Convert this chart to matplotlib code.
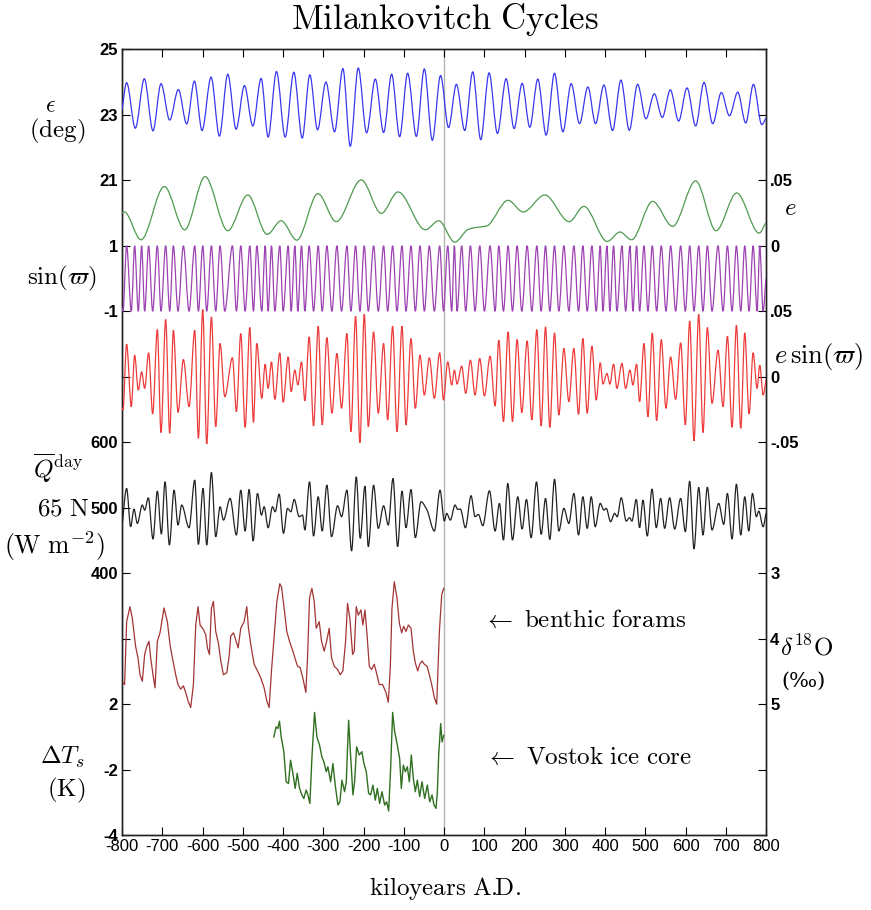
import numpy as np
import matplotlib
matplotlib.use("Agg")
import matplotlib.pyplot as plt
from matplotlib.path import Path
from matplotlib.patches import PathPatch

plt.rcParams['mathtext.fontset'] = 'cm'
plt.rcParams['font.family'] = ['Liberation Sans', 'DejaVu Sans']

# ---------------- data ----------------
# obliquity extrema (kyr, degrees)
obl_t = [-800, -788.5, -766.9, -744.5, -723.0, -703.1, -681.5, -660.0, -639.2, -620.1, -601.1,
         -578.7, -558.0, -537.2, -516.5, -495.8, -475.0, -454.3, -436.9, -416.2, -394.6, -373.1,
         -352.3, -333.3, -314.2, -293.4, -271.9, -251.2, -232.9, -213.0, -192.3, -170.7, -150.0,
         -130.1, -110.2, -90.3, -68.7, -48.9, -29.0, -8.6, 11.3, 30.8, 51.5, 71.4, 91.3, 112.0,
         132.8, 154.3, 174.2, 194.1, 213.2, 233.1, 253.8, 274.5, 295.3, 316.0, 336.7, 357.5,
         376.5, 397.3, 418.8, 439.6, 460.3, 481.0, 501.8, 522.5, 542.4, 562.3, 583.0, 603.8,
         625.3, 646.0, 667.6, 689.1, 709.1, 729.8, 749.7, 768.8, 789.5, 800]
obl_v = [23.15, 23.98, 22.59, 24.10, 22.51, 23.95, 22.84, 23.77, 22.72, 24.03, 22.52,
         24.15, 22.35, 24.24, 22.56, 23.89, 22.66, 24.11, 22.32, 24.32, 22.32, 24.30,
         22.29, 24.22, 22.54, 24.00, 22.48, 24.41, 22.04, 24.43, 22.45, 24.09, 22.46,
         24.24, 22.33, 24.27, 22.34, 24.40, 22.22, 24.20, 22.61, 23.93, 22.52, 24.31, 22.24, 24.28,
         22.43, 24.10, 22.58, 23.96, 22.62, 24.09, 22.38, 24.27, 22.48, 23.95, 22.73, 23.85,
         22.73, 23.91, 22.52, 24.06, 22.53, 23.93, 22.88, 23.64, 22.92, 23.76, 22.81, 23.82,
         22.66, 23.99, 22.73, 23.68, 22.97, 23.69, 22.75, 23.93, 22.70, 22.90]

# eccentricity (kyr, e)
ecc_t = [-800, -794, -752.8, -694.8, -644.2, -593.6, -537.2, -487.5, -439.4, -404.6, -365.6,
         -313.3, -267.8, -205.5, -155.8, -114.3, -46.3, -12.8, 26.6, 60, 80, 105, 159.3, 196.6,
         250.5, 311.0, 347.5, 405.6, 437.1, 466.1, 518.3, 568.1, 625.3, 675.9, 727.3, 782.9, 800]
ecc_v = [0.0250, 0.0258, 0.0046, 0.0452, 0.0122, 0.0528, 0.0115, 0.0388, 0.0087, 0.0191, 0.0043,
         0.0398, 0.0184, 0.0503, 0.0247, 0.0411, 0.0122, 0.0191, 0.0028, 0.0125, 0.0140, 0.0150,
         0.0347, 0.0258, 0.0388, 0.0184, 0.0301, 0.0033, 0.0105, 0.0046, 0.0339, 0.0148, 0.0495,
         0.0115, 0.0403, 0.0097, 0.0179]

# precession index e*sin(varpi) extrema (kyr, value)
prec_t = [-800, -797.6, -788.5, -776.9, -768.6, -759.5, -751.2, -743.7, -733.8, -723.8, -712.2,
          -703.1, -691.5, -681.5, -672.4, -660.8, -647.5, -633.4, -619.3, -610.2, -599.4, -589.5,
          -577.9, -567.1, -556.3, -544.7, -525.6, -515.7, -504.9, -494.1, -482.5, -473.4, -465.1,
          -452.7, -444.4, -436.9, -428.6, -420.3, -407.9, -399.6, -387.1, -379.7, -370.6, -363.1,
          -354.0, -345.7, -334.9, -324.1, -312.5, -302.6, -291.0, -278.5, -266.1, -254.5, -241.2,
          -231.3, -219.7, -208.9, -198.1, -188.1, -174.9, -163.3, -150.0, -140.0, -127.6, -116.8,
          -104.4, -94.4, -82.0, -71.2, -59.6, -48.8, -36.4, -24.0, -10.7, -1.2, 9.2, 19.2, 25.8,
          32.4, 44.0, 54.0, 65.6, 77.2, 88.8, 100.4, 114.5, 127.0, 136.1, 147.7, 159.3, 170.1,
          181.7, 193.3, 206.6, 218.2, 230.6, 241.4, 252.2, 262.9, 274.6, 285.3, 297.8, 310.2,
          322.6, 334.3, 345.0, 355.8, 367.4, 378.2, 388.2, 394.8, 404.8, 412.2, 421.3, 429.6,
          442.1, 451.2, 462.0, 469.4, 478.5, 486.0, 496.8, 506.7, 517.5, 528.3, 539.9, 551.5,
          563.1, 575.5, 588.0, 599.6, 610.4, 621.1, 632.8, 643.5, 654.3, 665.9, 680.8, 693.3,
          704.1, 715.7, 726.5, 737.3, 747.2, 758.0, 768.0, 777.9, 784.5, 792.8, 800]
esin_v = [-0.0240, -0.0254, 0.0249, -0.0228, 0.0165, -0.0102, 0.0038, -0.0089, 0.0183, -0.0284, 0.0360,
          -0.0426, 0.0437, -0.0431, 0.0355, -0.0272, 0.0132, -0.0228, 0.0355, -0.0470, 0.0513, -0.0513,
          0.0457, -0.0381, 0.0254, -0.0152, 0.0145, -0.0266, 0.0330, -0.0386, 0.0376, -0.0348, 0.0254,
          -0.0165, 0.0096, -0.0089, 0.0114, -0.0173, 0.0183, -0.0195, 0.0152, -0.0114, 0.0051, -0.0063,
          0.0114, -0.0183, 0.0305, -0.0376, 0.0386, -0.0368, 0.0299, -0.0279, 0.0178, -0.0241, 0.0330,
          -0.0419, 0.0462, -0.0503, 0.0477, -0.0381, 0.0343, -0.0279, 0.0254, -0.0330, 0.0386, -0.0419,
          0.0386, -0.0368, 0.0292, -0.0241, 0.0165, -0.0140, 0.0145, -0.0165, 0.0183, -0.0178, 0.0114,
          -0.0063, 0.0051, -0.0056, 0.0081, -0.0127, 0.0127, -0.0140, 0.0140, -0.0147, 0.0157, -0.0223,
          0.0279, -0.0343, 0.0343, -0.0343, 0.0284, -0.0274, 0.0274, -0.0330, 0.0360, -0.0376, 0.0381,
          -0.0386, 0.0335, -0.0292, 0.0216, -0.0190, 0.0216, -0.0287, 0.0292, -0.0279, 0.0234, -0.0178,
          0.0107, -0.0056, 0.0025, -0.0056, 0.0096, -0.0089, 0.0102, -0.0089, 0.0051, -0.0063, 0.0096,
          -0.0190, 0.0254, -0.0305, 0.0335, -0.0335, 0.0284, -0.0241, 0.0152, -0.0173, 0.0259, -0.0368,
          0.0426, -0.0490, 0.0477, -0.0426, 0.0376, -0.0203, 0.0203, -0.0228, 0.0310, -0.0386, 0.0393,
          -0.0393, 0.0335, -0.0284, 0.0183, -0.0089, 0.0089, -0.0140, -0.0025]

# sin(varpi): +1/-1 at the same turning points; values at the plot edges
sinw_edges = [-0.9, 0.0]

# 65N mean daily insolation extrema (kyr, W m^-2)
ins_t = [-800, -788.5, -778.5, -770.2, -761.9, -749.5, -743.7, -734.6, -723.0, -712.2, -702.2,
         -693.1, -682.3, -670.7, -660.8, -651.7, -633.4, -619.3, -610.2, -598.6, -589.5, -577.9,
         -567.1, -556.3, -548.0, -531.4, -515.7, -504.9, -494.1, -484.2, -474.2, -463.4, -453.5,
         -446.9, -436.9, -426.1, -419.5, -409.5, -398.8, -388.8, -380.5, -372.2, -359.8, -351.5,
         -345.7, -334.1, -324.1, -312.5, -302.6, -291.0, -279.4, -264.4, -254.5, -241.2, -229.6,
         -218.0, -208.1, -196.4, -188.1, -174.9, -163.3, -150.0, -138.4, -126.8, -115.2, -104.4,
         -94.4, -82.0, -71.2, -57.1, -42.2, -24.0, -9.9, 0.9, 6.7, 15.8, 27.4, 34.1, 40.7, 53.2,
         67.2, 77.2, 85.5, 96.3, 112.9, 127.0, 137.7, 147.7, 158.5, 170.1, 183.3, 194.1, 204.9,
         216.5, 229.8, 241.4, 252.2, 262.9, 274.6, 285.3, 297.8, 310.2, 322.6, 334.3, 345.0,
         355.8, 365.8, 375.7, 388.2, 397.3, 403.1, 413.9, 423.8, 430.4, 440.4, 452.8, 461.1,
         466.9, 477.7, 486.0, 494.3, 505.1, 516.7, 527.5, 538.2, 548.2, 560.6, 573.1, 588.0,
         599.6, 610.4, 621.1, 632.8, 643.5, 654.3, 665.9, 682.5, 695.0, 704.1, 715.7, 726.5,
         737.3, 747.2, 757.2, 766.3, 776.2, 782.0, 792.8, 800]
ins_v = [471.0, 529.5, 471.0, 498.0, 476.1, 504.1, 496.4, 515.2, 452.2, 525.4, 459.9,
         539.6, 443.1, 526.9, 473.6, 504.1, 469.5, 542.2, 444.1, 529.5, 443.1, 553.8,
         455.8, 501.5, 481.2, 514.2, 458.3, 526.9, 464.4, 527.9, 449.2, 521.8, 488.8,
         501.5, 469.5, 501.5, 493.9, 520.8, 460.9, 499.0, 493.9, 512.7, 486.3, 488.8,
         466.0, 539.6, 456.8, 516.8, 464.4, 534.5, 455.8, 503.0, 486.3, 526.9, 434.0,
         547.2, 453.3, 533.0, 440.6, 534.5, 468.5, 503.0, 473.6, 544.7, 440.6, 525.4,
         469.5, 527.9, 454.3, 509.1, 496.4, 464.4, 526.9, 479.7, 491.4, 481.2, 504.1, 497.5, 498.0, 469.5,
         518.3, 486.3, 489.8, 472.6, 525.9, 464.4, 506.6, 450.7, 537.1, 450.7, 516.8, 467.5, 512.7,
         454.3, 539.6, 459.4, 514.2, 451.7, 543.7, 464.4, 499.0, 476.1, 521.8, 458.3, 516.8,
         468.5, 516.8, 471.0, 506.6, 496.4, 499.0, 478.7, 491.4, 486.3, 515.2, 479.7, 484.8,
         479.7, 512.7, 469.5, 511.7, 456.8, 528.4, 469.5, 514.2, 468.5, 515.2, 467.5, 514.2,
         463.4, 540.6, 437.0, 531.0, 458.3, 531.5, 466.0, 506.6, 474.6, 521.8, 452.2, 536.1,
         458.3, 516.8, 464.4, 521.8, 486.3, 494.9, 471.0, 491.4]

# benthic foram d18O (kyr, permil)
d18o_t = [-796.8, -793.5, -788.5, -780.2, -774.4, -766.1, -760.3, -755.3, -749.5, -743.7, -738.7,
          -732.9, -728.8, -723.0, -718.0, -712.2, -705.6, -695.6, -687.3, -680.7, -674.9, -666.6,
          -660.8, -654.2, -647.5, -641.7, -635.9, -629.3, -622.6, -616.8, -611.0, -606.1, -597.8,
          -592.0, -587.8, -582.8, -577.9, -572.9, -567.1, -560.4, -554.6, -548.0, -539.7, -533.9,
          -529.8, -523.1, -517.3, -511.5, -504.9, -496.6, -490.0, -485.8, -480.0, -471.7, -463.4,
          -455.1, -446.9, -440.2, -434.4, -428.6, -422.0, -415.3, -407.9, -403.7, -397.1, -390.5,
          -383.8, -376.4, -370.6, -363.9, -357.3, -350.7, -343.2, -339.1, -334.1, -328.3, -322.5,
          -317.5, -310.0, -304.2, -297.6, -291.0, -285.2, -279.4, -272.7, -264.4, -257.8, -251.2,
          -244.5, -239.6, -233.8, -227.1, -223.0, -218.0, -213.0, -206.4, -201.4, -196.4, -191.5,
          -185.7, -179.8, -173.2, -166.6, -160.8, -152.5, -144.2, -138.4, -133.4, -129.3, -123.5,
          -116.8, -111.0, -105.2, -100.2, -94.4, -88.6, -82.0, -76.2, -71.2, -65.4, -60.4, -54.6,
          -48.8, -42.2, -36.4, -30.6, -23.9, -18.1, -11.5, -5.7, -0.7]
d18o_v = [4.67, 4.70, 3.74, 3.51, 3.69, 4.12, 4.29, 4.55, 4.65, 4.24, 4.12,
          4.04, 4.29, 4.55, 4.75, 4.04, 3.91, 3.53, 3.74, 4.09, 4.29, 4.55,
          4.70, 4.77, 4.72, 4.82, 4.95, 5.05, 4.70, 3.79, 3.51, 3.79, 3.86,
          3.94, 4.14, 4.24, 3.54, 3.43, 3.89, 4.07, 4.34, 4.55, 4.52, 4.27,
          3.96, 3.91, 4.02, 4.14, 3.84, 3.74, 3.51, 3.84, 4.09, 4.39, 4.49,
          4.60, 4.75, 4.95, 5.05, 4.49, 3.96, 3.43, 3.16, 3.21, 3.54, 3.89,
          4.04, 4.17, 4.29, 4.42, 4.44, 4.60, 4.82, 4.29, 3.38, 3.23, 3.43,
          3.84, 3.74, 4.04, 4.19, 4.02, 3.84, 4.29, 4.42, 4.47, 4.55, 4.49,
          4.04, 3.46, 3.69, 4.24, 4.19, 3.51, 3.64, 3.56, 3.79, 3.56, 3.91,
          4.42, 4.47, 4.39, 4.55, 4.70, 4.70, 4.82, 4.97, 4.44, 3.54, 3.13,
          3.38, 3.76, 3.91, 3.81, 3.89, 3.79, 3.84, 4.19, 4.37, 4.49, 4.39, 4.34,
          4.39, 4.42, 4.55, 4.70, 4.90, 5.00, 3.89, 3.33, 3.23]

# Vostok temperature anomaly (kyr, K on the panel scale)
vos_t = [-422.8, -417.0, -412.8, -408.7, -404.5, -397.9, -392.1, -386.3, -381.3, -375.5, -369.7,
         -364.7, -358.9, -353.1, -348.2, -342.4, -338.2, -333.2, -328.3, -321.6, -315.8, -309.2,
         -303.4, -298.4, -292.6, -288.5, -281.8, -276.0, -270.2, -263.6, -258.6, -253.6, -247.0,
         -242.8, -237.0, -232.1, -226.3, -222.1, -217.1, -210.5, -203.9, -198.9, -193.1, -187.3,
         -182.3, -176.5, -170.7, -165.7, -159.9, -154.1, -147.5, -142.5, -137.5, -132.6, -127.6,
         -122.6, -116.0, -110.2, -106.0, -101.1, -96.1, -91.1, -86.1, -81.2, -76.2, -71.2, -66.2,
         -60.4, -54.6, -48.0, -41.4, -35.5, -29.7, -24.8, -19.8, -16.5, -13.2, -8.2, -4.9, -0.7]
vos_v = [-1.00, -0.69, -0.74, -0.52, -1.00, -1.45, -2.37, -2.42, -1.71, -2.11, -2.57,
         -2.11, -2.57, -2.77, -2.88, -2.62, -2.77, -3.03, -1.66, -0.25, -1.00, -1.25,
         -1.61, -1.76, -2.06, -1.91, -2.37, -1.81, -2.47, -3.08, -2.98, -2.32, -2.67,
         -2.37, -0.49, -1.55, -2.77, -2.37, -1.30, -1.55, -1.45, -1.81, -2.06, -2.72,
         -2.77, -2.47, -2.93, -2.57, -3.03, -2.67, -3.08, -2.98, -3.26, -1.96, -0.25,
         -0.84, -1.25, -1.66, -2.57, -1.86, -2.06, -1.91, -2.37, -1.55, -2.27, -2.67, -2.32,
         -2.82, -2.37, -2.88, -2.47, -2.98, -2.77, -3.08, -3.18, -2.67, -1.55, -0.59, -1.15, -0.95]

x_ticks = list(range(-800, 801, 100))
left_labels = ['-4', '-2', '2', '', '400', '500', '600', '', '-1', '1', '21', '23', '25']
right_labels = ['', '', '5', '4', '3', '', '-.05', '0', '.05', '0', '.05', '', '']

# ---------------- figure ----------------
W, H = 871, 910
fig = plt.figure(figsize=(W / 100, H / 100), dpi=100)
x0, x1, ytop, ybot = 122, 766, 49.3, 835.2
ax = fig.add_axes([x0 / W, 1 - ybot / H, (x1 - x0) / W, (ybot - ytop) / H])
ax.set_xlim(-800, 800)
ax.set_ylim(0, 12)
ax.set_xticks(x_ticks)
ax.set_xticklabels([str(v) for v in x_ticks], fontsize=12)
ax.set_yticks(range(13))
ax.set_yticklabels(left_labels, fontsize=12, fontweight='bold')
ax.tick_params(axis='x', direction='in', top=True, length=6, pad=3)
ax.tick_params(axis='y', direction='in', length=6, pad=3)
ax.axvline(0, color='#b4b4b4', lw=1.0, zorder=0)

axr = ax.twinx()
axr.set_ylim(0, 12)
axr.set_yticks(range(13))
axr.set_yticklabels(right_labels, fontsize=12, fontweight='bold')
axr.tick_params(axis='y', direction='in', length=6, pad=3)

for a in (ax, axr):
    for s in a.spines.values():
        s.set_linewidth(1.0)
        s.set_color('#222222')


def overlay(lo, hi):
    a = ax.twinx()
    a.set_ylim(lo, hi)
    a.set_xlim(-800, 800)
    a.axis('off')
    return a


def smooth_curve(a, t, v, color, lw=0.9):
    t = np.asarray(t, float)
    v = np.asarray(v, float)
    h = np.diff(t)
    d = np.diff(v) / h
    m = np.zeros_like(v)
    m[0] = d[0]
    m[-1] = d[-1]
    for k in range(1, len(v) - 1):
        if d[k - 1] * d[k] > 0:
            w1 = 2 * h[k] + h[k - 1]
            w2 = h[k] + 2 * h[k - 1]
            m[k] = (w1 + w2) / (w1 / d[k - 1] + w2 / d[k])
    verts = [(t[0], v[0])]
    codes = [Path.MOVETO]
    for k in range(len(h)):
        verts += [(t[k] + h[k] / 3, v[k] + m[k] * h[k] / 3),
                  (t[k + 1] - h[k] / 3, v[k + 1] - m[k + 1] * h[k] / 3),
                  (t[k + 1], v[k + 1])]
        codes += [Path.CURVE4] * 3
    a.add_patch(PathPatch(Path(verts, codes), fill=False, edgecolor=color, lw=lw))


# obliquity: 21..25 deg on units 10..12
a_obl = overlay(1, 25)
smooth_curve(a_obl, obl_t, obl_v, '#3838ee')
# eccentricity: 0..0.05 on units 9..10
a_ecc = overlay(-0.45, 0.15)
smooth_curve(a_ecc, ecc_t, ecc_v, '#4f9a4f')
# sin(varpi): -1..1 on units 8..9
a_sin = overlay(-17, 7)
sinw_v = np.sign(np.asarray(esin_v))
sinw_v[0] = sinw_edges[0]
sinw_v[-1] = sinw_edges[1]
smooth_curve(a_sin, prec_t, sinw_v, '#9c42b2')
# e sin(varpi): -0.05..0.05 on units 6..8
a_esin = overlay(-0.35, 0.25)
smooth_curve(a_esin, prec_t, esin_v, '#ee3c3c')
# insolation: 400..600 on units 4..6
a_ins = overlay(0, 1200)
smooth_curve(a_ins, ins_t, ins_v, '#222222')
# d18O: 3..5 on units 4..2 (inverted)
a_d18 = overlay(7, -5)
a_d18.plot(d18o_t, d18o_v, color='#a33434', lw=0.9)
# Vostok dT: -4..-2 on units 0..1
a_vos = overlay(-4, 20)
a_vos.plot(vos_t, vos_v, color='#2f6f1f', lw=1.0)


def ftext(x, y, s, size=18, ha='center', va='center', **kw):
    fig.text(x / W, 1 - y / H, s, fontsize=size, ha=ha, va=va, **kw)


ftext(445, 19, r'$\mathrm{Milankovitch\ Cycles}$', size=25)
ftext(445, 888, r'$\mathrm{kiloyears\ A.\!\!D.}$', size=18)
ftext(50, 106, r'$\epsilon$', size=17)
ftext(57, 131, r'$(\mathrm{deg})$', size=18)
ftext(62, 278, r'$\sin(\varpi)$', size=18)
ftext(58, 468, r'$\overline{Q}^{\mathrm{day}}$', size=18)
ftext(63, 509, r'$65\ \mathrm{N}$', size=18)
ftext(54, 546, r'$(\mathrm{W\ m}^{-2})$', size=18.5)
ftext(62, 757, r'$\Delta T_s$', size=18)
ftext(66, 790, r'$(\mathrm{K})$', size=18)
ftext(790, 208, r'$e$', size=18)
ftext(819, 356, r'$e\,\sin(\varpi)$', size=19)
ftext(807, 648, r'$\delta^{18}\mathrm{O}$', size=18)
ftext(803, 681, '(‰)', size=15, family='DejaVu Serif')
ftext(483, 620, r'$\leftarrow\ \mathrm{benthic\ forams}$', size=18, ha='left')
ftext(485, 757, r'$\leftarrow\ \mathrm{Vostok\ ice\ core}$', size=18, ha='left')

fig.savefig('out.png', dpi=100)
